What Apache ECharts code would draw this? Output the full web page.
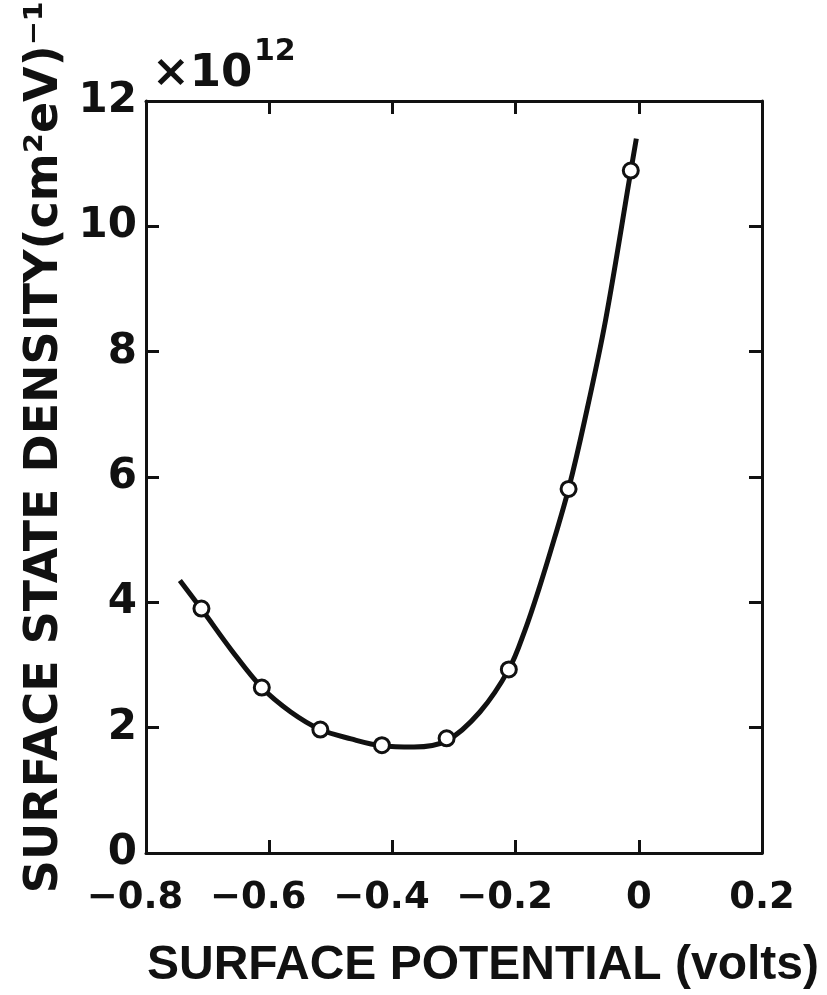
<!DOCTYPE html>
<html>
<head>
<meta charset="utf-8">
<script src="https://cdn.jsdelivr.net/npm/echarts@6/dist/echarts.min.js"></script>
<style>
html,body{margin:0;padding:0;background:#fff;}
#chart{width:827px;height:995px;}
</style>
</head>
<body>
<div id="chart"></div>
<script>
// Measured points (surface potential in volts, density in 1e12 cm^-2 eV^-1)
const pointX = [-0.71, -0.612, -0.517, -0.417, -0.312, -0.211, -0.114, -0.013];
const pointY = [3.90, 2.64, 1.97, 1.72, 1.83, 2.93, 5.81, 10.89];

// Hand-drawn fitted curve
const curveX = [-0.745, -0.709, -0.66, -0.612, -0.565, -0.517, -0.467, -0.417, -0.365, -0.312, -0.258, -0.211, -0.185, -0.161, -0.137, -0.114, -0.088, -0.054, -0.013, -0.004];
const curveY = [4.35, 3.88, 3.22, 2.64, 2.25, 1.97, 1.82, 1.71, 1.69, 1.79, 2.25, 2.93, 3.55, 4.25, 5.02, 5.81, 6.90, 8.50, 10.88, 11.40];

const xTickLabels = ['\u22120.8', '\u22120.6', '\u22120.4', '\u22120.2', '0', '0.2'];
const yTickLabels = ['0', '2', '4', '6', '8', '10', '12'];

const xTitle = 'SURFACE POTENTIAL (volts)';
const yTitle = 'SURFACE STATE DENSITY(cm\u00B2eV)\u207B\u00B9';
const scaleMain = '\u00D710';
const scaleExp = '12';

const ink = '#111';
const lineW = 3;

const chart = echarts.init(document.getElementById('chart'), null, {renderer: 'canvas'});

const axisLineStyle = {show: true, onZero: false, lineStyle: {color: ink, width: lineW}};
const tickStyle = {show: true, inside: true, length: 13, lineStyle: {color: ink, width: lineW}};

const option = {
  backgroundColor: '#fff',
  animation: false,
  grid: {left: 146, right: 65, top: 101, bottom: 137, containLabel: false},
  graphic: [
    {type: 'text', left: 152, top: 52, style: {text: scaleMain, font: 'bold 45px "DejaVu Sans"', fill: ink}},
    {type: 'text', left: 254, top: 37, style: {text: scaleExp, font: 'bold 30px "DejaVu Sans"', fill: ink}}
  ],
  xAxis: [
    {
      type: 'value', position: 'bottom', min: -0.8, max: 0.2, interval: 0.2,
      axisLine: axisLineStyle, axisTick: tickStyle, splitLine: {show: false},
      axisLabel: {
        margin: 27,
        color: ink,
        fontFamily: 'DejaVu Sans', fontWeight: 'bold', fontSize: 37,
        formatter: function (v) {
          const idx = Math.round((v + 0.8) / 0.2);
          const s = xTickLabels[idx];
          return s.charAt(0) === '\u2212' ? '{neg|' + s + '}' : s;
        },
        rich: {neg: {fontFamily: 'DejaVu Sans', fontWeight: 'bold', fontSize: 37, color: ink, padding: [0, 22, 0, 0]}}
      },
      name: xTitle, nameLocation: 'middle', nameGap: 89,
      nameTextStyle: {fontFamily: 'Liberation Sans', fontWeight: 'bold', fontSize: 48, color: ink, padding: [0, 0, 0, 58]}
    },
    {
      type: 'value', position: 'top', min: -0.8, max: 0.2, interval: 0.2,
      axisLine: axisLineStyle, axisTick: tickStyle, axisLabel: {show: false}, splitLine: {show: false}
    }
  ],
  yAxis: [
    {
      type: 'value', position: 'left', min: 0, max: 12, interval: 2,
      axisLine: axisLineStyle, axisTick: tickStyle, splitLine: {show: false},
      axisLabel: {
        margin: 9, color: ink,
        fontFamily: 'DejaVu Sans', fontWeight: 'bold', fontSize: 42,
        formatter: function (v) { return yTickLabels[Math.round(v / 2)]; }
      },
      name: yTitle, nameLocation: 'middle', nameRotate: 90, nameGap: 66,
      nameTextStyle: {fontFamily: 'DejaVu Sans', fontWeight: 'bold', fontSize: 46, color: ink, padding: [0, 0, 0, 60]}
    },
    {
      type: 'value', position: 'right', min: 0, max: 12, interval: 2,
      axisLine: axisLineStyle, axisTick: tickStyle, axisLabel: {show: false}, splitLine: {show: false}
    }
  ],
  series: [
    {
      type: 'line',
      data: curveX.map((x, i) => [x, curveY[i]]),
      smooth: 0.35,
      showSymbol: false,
      symbol: 'none',
      lineStyle: {color: ink, width: 5},
      z: 2
    },
    {
      type: 'scatter',
      data: pointX.map((x, i) => [x, pointY[i]]),
      symbol: 'circle',
      symbolSize: 15,
      itemStyle: {color: '#fff', borderColor: ink, borderWidth: 3, opacity: 1},
      z: 3
    }
  ]
};
chart.setOption(option);
</script>
</body>
</html>
